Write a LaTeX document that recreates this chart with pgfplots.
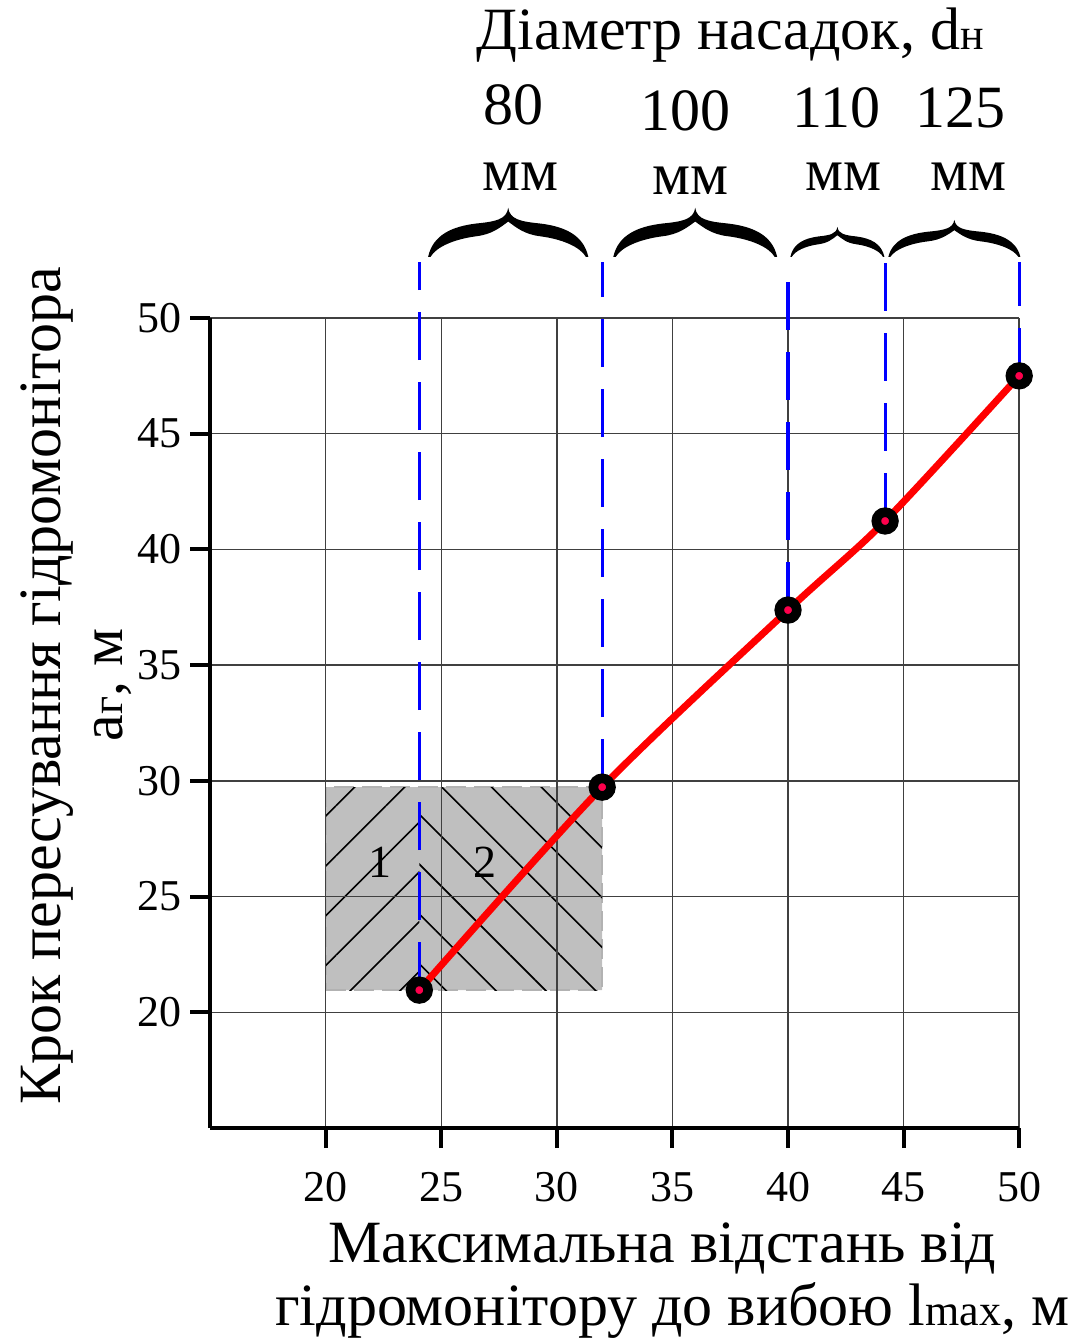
\documentclass[border=0pt]{standalone}
\usepackage{fontspec}
\setmainfont{Liberation Serif}
\usepackage{pgfplots}
\pgfplotsset{compat=1.18}
\usetikzlibrary{patterns.meta}
\newcommand{\bigf}{\fontsize{15}{18}\selectfont}
\newcommand{\tbrace}[4]{%
  \begin{scope}[shift={({#1-15},{#3-15})}, xscale={#2-#1}, yscale=#4]
    \fill[black] (0,0) .. controls (0.03,0.45) and (0.15,0.62) .. (0.3,0.68)
      .. controls (0.42,0.72) and (0.49,0.76) .. (0.5,1)
      .. controls (0.51,0.76) and (0.58,0.72) .. (0.7,0.68)
      .. controls (0.85,0.62) and (0.97,0.45) .. (1,0)
      -- (0.985,0)
      .. controls (0.95,0.2) and (0.84,0.36) .. (0.7,0.42)
      .. controls (0.6,0.46) and (0.55,0.6) .. (0.5,0.72)
      .. controls (0.45,0.6) and (0.4,0.46) .. (0.3,0.42)
      .. controls (0.16,0.36) and (0.05,0.2) .. (0.015,0) -- cycle;
  \end{scope}}
\begin{document}
\begin{tikzpicture}
\begin{axis}[
  set layers,
  scale only axis,
  width=202.25pt, height=202.5pt,
  xmin=15, xmax=50, ymin=15, ymax=50,
  xtick={20,25,...,50}, ytick={20,25,...,50},
  axis lines=left,
  axis line style={-, line width=1pt, black},
  tick align=outside, major tick length=5pt,
  tick style={line width=1pt, black},
  grid=major, grid style={line width=0.35pt, black!75},
  clip=false,
  ticklabel style={font=\fontsize{11}{13}\selectfont},
  /pgf/number format/assume math mode=true,
  xticklabel style={yshift=-2.5pt},
  yticklabel style={xshift=1.5pt},
]
\coordinate (O) at (axis cs:15,15);
% shaded zone
\addplot[on layer=axis background, fill=black!25, draw=black!30, dash pattern=on 5pt off 2pt, line width=0.6pt]
  coordinates {(20,20.96) (31.96,20.96) (31.96,29.73) (20,29.73) (20,20.96)};
\addplot[on layer=axis background, draw=none, pattern={Lines[angle=45, distance=8.8pt, line width=0.4pt]}]
  coordinates {(20,20.96) (24.05,20.96) (24.05,29.73) (20,29.73)};
\addplot[on layer=axis background, draw=none, pattern={Lines[angle=-45, distance=8.8pt, line width=0.4pt]}]
  coordinates {(24.05,20.96) (31.96,20.96) (31.96,29.73) (24.05,29.73)};
% blue dashed verticals
\addplot[blue, line width=0.8pt, dash pattern=on 12pt off 5.5pt] coordinates {(24.05,20.96) (24.05,52.42)};
\addplot[blue, line width=0.8pt, dash pattern=on 12pt off 5.5pt] coordinates {(31.96,29.73) (31.96,52.42)};
\addplot[blue, line width=0.8pt, dash pattern=on 12pt off 5.5pt] coordinates {(40.0,37.38) (40.0,52.42)};
\addplot[blue, line width=0.8pt, dash pattern=on 12pt off 5.5pt] coordinates {(44.2,41.23) (44.2,52.42)};
\addplot[blue, line width=0.8pt, dash pattern=on 12pt off 5.5pt] coordinates {(50.0,47.5) (50.0,52.42)};
% red curve
\addplot[red, line width=1.75pt, smooth] coordinates {(24.05,20.96) (31.96,29.73) (40.0,37.38) (44.2,41.23) (50.0,47.5)};
\addplot[only marks, mark=*, mark size=2.2pt, mark options={draw=black, line width=2.4pt, fill=red!70!magenta}]
  coordinates {(24.05,20.96) (31.96,29.73) (40.0,37.38) (44.2,41.23) (50.0,47.5)};
% zone labels
\node[font=\fontsize{11.5}{13}\selectfont] at (axis cs:22.36,26.49) {1};
\node[font=\fontsize{11.5}{13}\selectfont] at (axis cs:26.9,26.49) {2};
% top annotations
\node[anchor=base, font=\bigf] at (axis cs:37.5,61.58) {Діаметр насадок, d{\fontsize{11}{12}\selectfont н}};
\node[anchor=base, font=\bigf] at (axis cs:28.11,58.34) {80};
\node[anchor=base, font=\bigf] at (axis cs:35.55,58.12) {100};
\node[anchor=base, font=\bigf] at (axis cs:42.09,58.25) {110};
\node[anchor=base, font=\bigf] at (axis cs:47.45,58.25) {125};
\node[anchor=base, font=\bigf] at (axis cs:28.41,55.53) {мм};
\node[anchor=base, font=\bigf] at (axis cs:35.77,55.32) {мм};
\node[anchor=base, font=\bigf] at (axis cs:42.39,55.53) {мм};
\node[anchor=base, font=\bigf] at (axis cs:47.8,55.53) {мм};
% axis labels
\node[anchor=base, font=\bigf] at (axis cs:34.56,9.2) {Максимальна відстань від};
\node[anchor=base, font=\bigf] at (axis cs:34.99,6.48) {гідромонітору до вибою l{\fontsize{11}{12}\selectfont max}, м};
\node[rotate=90, anchor=base, font=\bigf] at (axis cs:8.51,34.1) {Крок пересування гідромонітора};
\node[rotate=90, anchor=base, font=\bigf] at (axis cs:11.19,34.14) {a{\fontsize{11}{12}\selectfont г}, м};
\end{axis}
\begin{scope}[shift={(O)}, x=5.7786pt, y=5.7857pt]
  \tbrace{24.43}{31.36}{52.64}{2.12}
  \tbrace{32.44}{39.53}{52.64}{2.12}
  \tbrace{40.10}{44.17}{52.64}{1.30}
  \tbrace{44.34}{50.05}{52.64}{1.60}
  \pgfresetboundingbox
  \path[use as bounding box] (-9.09,-9.20) rectangle (37.51,48.74);
\end{scope}
\end{tikzpicture}
\end{document}
